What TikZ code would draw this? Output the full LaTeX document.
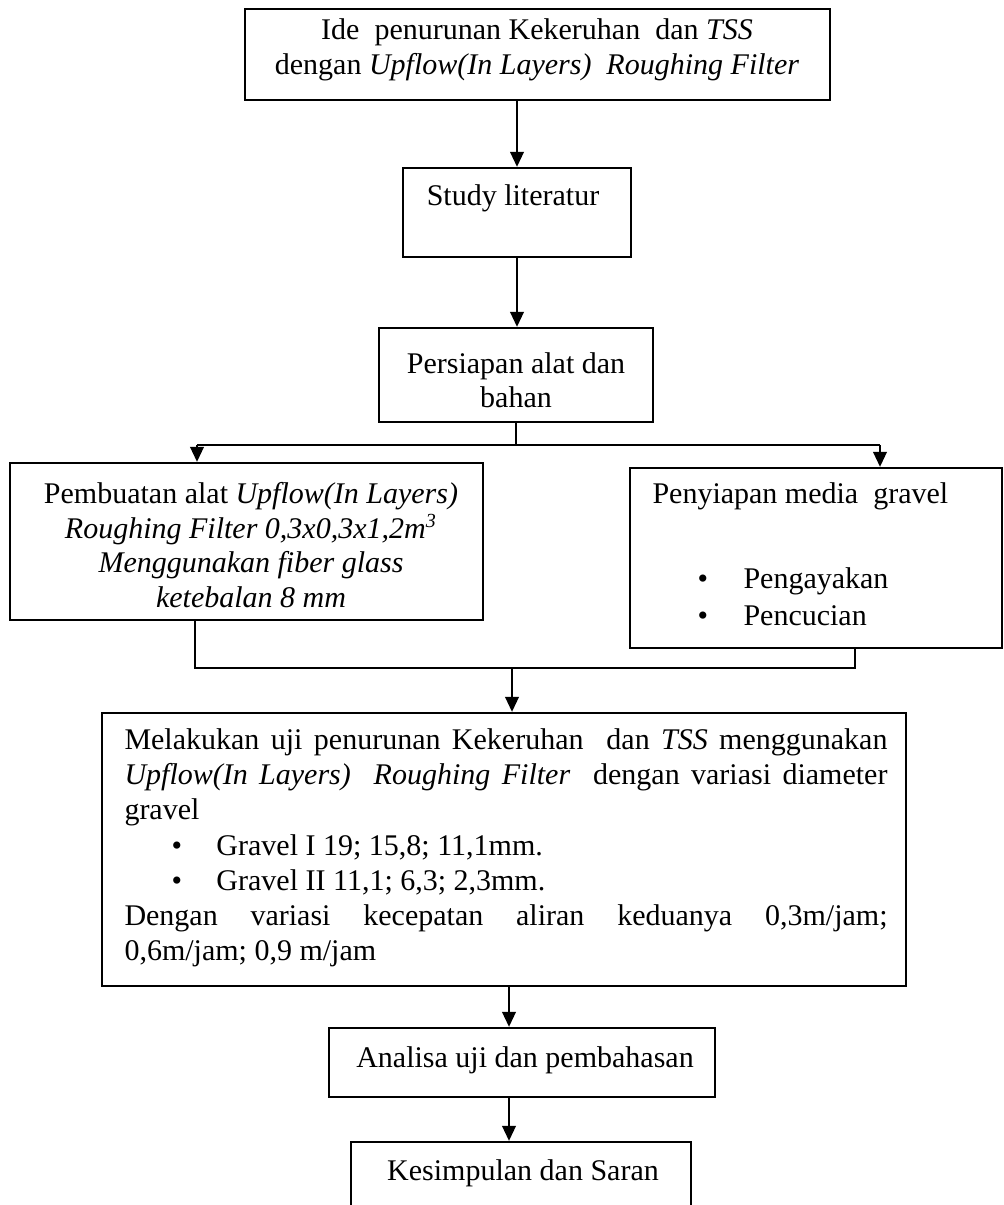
\documentclass[tikz,border=0pt]{standalone}
\usepackage{fontspec}
\setmainfont{Liberation Serif}
\usetikzlibrary{arrows.meta,fit}
\newdimen\pxu \pxu=0.4pt
\begin{document}
\begin{tikzpicture}[x=0.4pt,y=-0.4pt,
  box/.style={draw, line width=0.9pt, inner sep=0pt},
  txt/.style={inner sep=0pt, font=\fontsize{12}{13.8}\selectfont, align=center},
  arr/.style={line width=0.9pt, -{Triangle[length=6pt,width=5.4pt]}},
  ln/.style={line width=0.9pt}]
\useasboundingbox (0,0) rectangle (1004,1205);
\clip (0,0) rectangle (1004,1205);

% boxes
\node[box, fit={(245,9) (830,100)}] (b1) {};
\node[box, fit={(403,168) (631,257)}] (b2) {};
\node[box, fit={(379,328) (653,422)}] (b3) {};
\node[box, fit={(10,463) (483,620)}] (b4) {};
\node[box, fit={(630,468) (1002,648)}] (b5) {};
\node[box, fit={(102,713) (906,986)}] (b6) {};
\node[box, fit={(329,1028) (715,1097)}] (b7) {};
\node[box, fit={(351,1142) (691,1250)}] (b8) {};

% texts
\node[txt] (t1) at (537,50) {Ide\ \ penurunan Kekeruhan\ \ dan \textit{TSS}\\dengan \textit{Upflow(In Layers)\ \ Roughing Filter}};
\node[txt] (t2) at (513,198) {Study literatur};
\node[txt] (t3) at (516,380) {Persiapan alat dan\\bahan};
\node[txt, font=\fontsize{12}{13.9}\selectfont] (t4) at (251,545) {Pembuatan alat \textit{Upflow(In Layers)}\\\textit{Roughing Filter 0,3x0,3x1,2m\textsuperscript{3}}\\\textit{Menggunakan fiber glass}\\\textit{ketebalan 8 mm}};
\node[txt, anchor=mid west] (t5) at (652,498) {Penyiapan media\ \ gravel};
\node[txt, anchor=mid west] (t5a) at (697,583) {\makebox[46\pxu][l]{•}Pengayakan};
\node[txt, anchor=mid west] (t5b) at (697,620) {\makebox[46\pxu][l]{•}Pencucian};
\node[txt, align=left] (t6) at (506,848) {\parbox{763\pxu}{\fontsize{12}{14.1}\selectfont\noindent
\makebox[763\pxu][s]{Melakukan uji penurunan Kekeruhan\ \ dan \textit{TSS} menggunakan}\\
\makebox[763\pxu][s]{\textit{Upflow(In Layers)\ \ Roughing Filter}\ \ dengan variasi diameter}\\
gravel\\
\hspace*{47\pxu}\makebox[45\pxu][l]{•}Gravel I 19; 15,8; 11,1mm.\\
\hspace*{47\pxu}\makebox[45\pxu][l]{•}Gravel II 11,1; 6,3; 2,3mm.\\
\makebox[763\pxu][s]{Dengan variasi kecepatan aliran keduanya 0,3m/jam;}\\
0,6m/jam; 0,9 m/jam}};
\node[txt] (t7) at (525,1060) {Analisa uji dan pembahasan};
\node[txt] (t8) at (523,1173) {Kesimpulan dan Saran};

% connectors
\coordinate (sL) at (197,445);
\coordinate (sR) at (880,445);
\coordinate (jL) at (195,668);
\coordinate (jR) at (855,668);
\coordinate (jM) at (512,668);
\coordinate (ax) at (509,0);

\draw[arr] (b1.south -| b2.north) -- (b2.north);
\draw[arr] (b2.south) -- (b2.south |- b3.north);
\draw[ln] (b3.south) -- (b3.south |- sL);
\draw[arr] (sL) -- (sL |- b4.north);
\draw[ln] (sL) -- (sR);
\draw[arr] (sR) -- (sR |- b5.north);
\draw[ln] (jL |- b4.south) -- (jL) -- (jR) -- (jR |- b5.south);
\draw[arr] (jM) -- (jM |- b6.north);
\draw[arr] (b6.south -| ax) -- (b7.north -| ax);
\draw[arr] (b7.south -| ax) -- (b8.north -| ax);
\end{tikzpicture}
\end{document}
